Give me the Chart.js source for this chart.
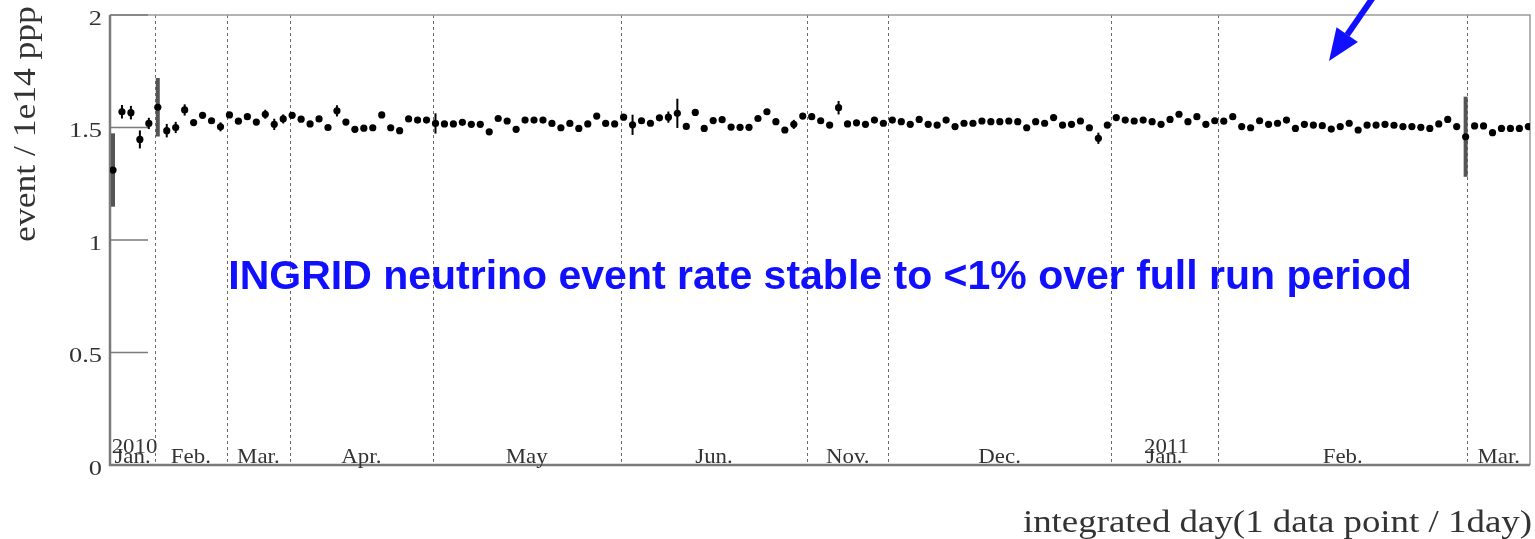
<!DOCTYPE html>
<html>
<head>
<meta charset="utf-8">
<script src="https://cdn.jsdelivr.net/npm/chart.js@4.4.1/dist/chart.umd.min.js"></script>
<style>
  html, body { margin: 0; padding: 0; background: #fff; }
  #wrap { width: 1535px; height: 539px; }
</style>
</head>
<body>
<div id="wrap"><canvas id="rateChart" width="1535" height="539"></canvas></div>
<script>
// event rate per day (1 data point / 1 day), in events / 1e14 ppp
const rate = [
    1.311, 1.570, 1.566, 1.447, 1.518, 1.590, 1.486, 1.500, 1.578, 1.522,
    1.554, 1.530, 1.503, 1.556, 1.528, 1.548, 1.524, 1.559, 1.514, 1.538,
    1.554, 1.537, 1.516, 1.538, 1.500, 1.574, 1.524, 1.492,
    1.497, 1.499, 1.556, 1.499, 1.486, 1.538, 1.533, 1.533, 1.518, 1.516,
    1.516, 1.523, 1.514, 1.514, 1.481, 1.540, 1.529, 1.492, 1.533, 1.533,
    1.533, 1.518, 1.499, 1.518, 1.496, 1.516, 1.551, 1.518, 1.516,
    1.546, 1.512, 1.530, 1.519, 1.543, 1.546, 1.563, 1.505, 1.567, 1.496,
    1.531, 1.535, 1.502, 1.501, 1.501, 1.540, 1.570, 1.526, 1.489, 1.514,
    1.551, 1.548, 1.530, 1.511, 1.588, 1.516, 1.521, 1.514, 1.533,
    1.519, 1.533, 1.526, 1.514, 1.536, 1.514, 1.511, 1.533, 1.504, 1.519,
    1.519, 1.529, 1.526, 1.526, 1.529, 1.526, 1.499, 1.526, 1.519, 1.544,
    1.511, 1.514, 1.529, 1.499, 1.452, 1.511, 1.544, 1.533,
    1.529, 1.533, 1.526, 1.514, 1.536, 1.559, 1.526, 1.548, 1.514, 1.530,
    1.528, 1.548, 1.504, 1.499, 1.530, 1.514, 1.519, 1.533, 1.496, 1.514,
    1.511, 1.508, 1.493, 1.504, 1.519, 1.489, 1.511, 1.511, 1.514,
    1.510, 1.504, 1.504, 1.501, 1.496, 1.516, 1.536, 1.504, 1.459, 1.507,
    1.507, 1.477, 1.496, 1.496, 1.496, 1.504
];

// statistical error on each point
const rateErr = [
    0.163, 0.030, 0.030, 0.040, 0.025, 0.130, 0.030, 0.025, 0.025, 0.010,
    0.015, 0.010, 0.020, 0.010, 0.010, 0.010, 0.010, 0.020, 0.025, 0.020,
    0.010, 0.010, 0.010, 0.010, 0.010, 0.025, 0.010, 0.010,
    0.010, 0.010, 0.015, 0.010, 0.010, 0.010, 0.010, 0.012, 0.045, 0.010,
    0.010, 0.010, 0.010, 0.010, 0.010, 0.013, 0.015, 0.010, 0.015, 0.010,
    0.010, 0.010, 0.010, 0.010, 0.013, 0.010, 0.010, 0.010, 0.010,
    0.010, 0.045, 0.015, 0.010, 0.010, 0.025, 0.065, 0.010, 0.010, 0.010,
    0.010, 0.015, 0.010, 0.010, 0.010, 0.010, 0.010, 0.010, 0.010, 0.020,
    0.010, 0.010, 0.010, 0.010, 0.030, 0.010, 0.010, 0.010, 0.010,
    0.010, 0.010, 0.010, 0.010, 0.010, 0.010, 0.010, 0.010, 0.010, 0.010,
    0.010, 0.010, 0.010, 0.010, 0.010, 0.010, 0.010, 0.010, 0.010, 0.015,
    0.010, 0.010, 0.010, 0.010, 0.025, 0.015, 0.013, 0.010,
    0.010, 0.010, 0.010, 0.010, 0.010, 0.015, 0.010, 0.010, 0.010, 0.010,
    0.010, 0.010, 0.010, 0.010, 0.010, 0.010, 0.010, 0.010, 0.010, 0.010,
    0.010, 0.010, 0.010, 0.010, 0.010, 0.010, 0.010, 0.010, 0.010,
    0.010, 0.010, 0.010, 0.010, 0.010, 0.012, 0.010, 0.010, 0.178, 0.010,
    0.010, 0.010, 0.010, 0.010, 0.010, 0.010
];

// month boundaries (in integrated days) and the month labels between them
const monthEdges = [4.69, 12.69, 19.76, 35.69, 56.68, 77.5, 86.55, 111.4, 123.35, 151.2];
const monthNames = ['Jan.', 'Feb.', 'Mar.', 'Apr.', 'May', 'Jun.', 'Nov.', 'Dec.', 'Jan.', 'Feb.', 'Mar.'];
const yearNames  = ['2010', '', '', '', '', '', '', '', '2011', '', ''];

const yTicks = [0, 0.5, 1, 1.5, 2];
const yTickLabels = ['0', '0.5', '1', '1.5', '2'];

const yTitle = 'event / 1e14 ppp';
const xTitle = 'integrated day(1 data point / 1day)';
const note = 'INGRID neutrino event rate stable to <1% over full run period';

const SERIF = '"Liberation Serif", "Times New Roman", serif';

function stretchText(ctx, txt, x, y, sx, align) {
    ctx.save();
    ctx.translate(x, y);
    ctx.scale(sx, 1);
    ctx.textAlign = align;
    ctx.fillText(txt, 0, 0);
    ctx.restore();
}

const rootStyle = {
    id: 'rootStyle',
    beforeDatasetsDraw(chart) {
        const ctx = chart.ctx;
        const area = chart.chartArea;
        const xs = chart.scales.x, ys = chart.scales.y;

        // month separators
        ctx.save();
        ctx.strokeStyle = '#6a6a6a';
        ctx.lineWidth = 1;
        ctx.setLineDash([3, 3]);
        monthEdges.forEach(d => {
            const px = Math.round(xs.getPixelForValue(d)) + 0.5;
            ctx.beginPath();
            ctx.moveTo(px, area.top);
            ctx.lineTo(px, area.bottom);
            ctx.stroke();
        });
        ctx.restore();

        // frame
        ctx.save();
        ctx.strokeStyle = '#9a9a9a';
        ctx.lineWidth = 1.5;
        ctx.beginPath();
        ctx.moveTo(area.left, area.top);
        ctx.lineTo(area.right, area.top);
        ctx.lineTo(area.right, area.bottom);
        ctx.stroke();
        ctx.strokeStyle = '#7a7a7a';
        ctx.lineWidth = 2.5;
        ctx.beginPath();
        ctx.moveTo(area.left, area.top);
        ctx.lineTo(area.left, area.bottom);
        ctx.lineTo(area.right, area.bottom);
        ctx.stroke();

        // y ticks, drawn inside the frame like ROOT
        ctx.strokeStyle = '#7a7a7a';
        ctx.lineWidth = 1.5;
        yTicks.forEach(v => {
            const py = ys.getPixelForValue(v);
            ctx.beginPath();
            ctx.moveTo(area.left, py);
            ctx.lineTo(area.left + 38, py);
            ctx.stroke();
        });
        ctx.restore();

        // error bars
        ctx.save();
        rate.forEach((v, i) => {
            const px = xs.getPixelForValue(i);
            const top = ys.getPixelForValue(v + rateErr[i]);
            const bot = ys.getPixelForValue(v - rateErr[i]);
            if (bot - top < 8) return;
            const wide = rateErr[i] > 0.1;
            ctx.strokeStyle = wide ? '#555' : '#000';
            ctx.lineWidth = wide ? 4 : 2;
            ctx.beginPath();
            ctx.moveTo(px, top);
            ctx.lineTo(px, bot);
            ctx.stroke();
        });
        ctx.restore();
    },
    afterDatasetsDraw(chart) {
        const ctx = chart.ctx;
        const area = chart.chartArea;
        const xs = chart.scales.x, ys = chart.scales.y;

        ctx.save();
        ctx.fillStyle = '#333';
        ctx.textBaseline = 'middle';
        ctx.font = '22px ' + SERIF;
        yTicks.forEach((v, i) => {
            stretchText(ctx, yTickLabels[i], area.left - 8, ys.getPixelForValue(v) + 4, 1.2, 'right');
        });

        // month labels centred between the separators
        ctx.textBaseline = 'alphabetic';
        const edges = [xs.min].concat(monthEdges, [xs.max]);
        monthNames.forEach((m, i) => {
            const cx = xs.getPixelForValue((edges[i] + edges[i + 1]) / 2);
            stretchText(ctx, m, cx, area.bottom - 2, 1.04, 'center');
            if (yearNames[i]) stretchText(ctx, yearNames[i], cx + 2, area.bottom - 12, 1.04, 'center');
        });

        // axis titles
        ctx.font = '31px ' + SERIF;
        stretchText(ctx, xTitle, area.right + 2, 532, 1.19, 'right');

        ctx.save();
        ctx.font = '32px ' + SERIF;
        ctx.translate(35, 124);
        ctx.rotate(-Math.PI / 2);
        ctx.scale(1.11, 1);
        ctx.textAlign = 'center';
        ctx.fillText(yTitle, 0, 0);
        ctx.restore();

        // blue annotation
        ctx.fillStyle = '#1010ff';
        ctx.font = 'bold 41px "Liberation Sans", Arial, sans-serif';
        ctx.textAlign = 'center';
        ctx.fillText(note, 820, 289);

        // arrow pointing at the run
        const tipX = 1329, tipY = 61, tailX = 1374, tailY = -4;
        const ang = Math.atan2(tipY - tailY, tipX - tailX);
        const headLen = 32, headHalf = 13;
        const bx = tipX - headLen * Math.cos(ang), by = tipY - headLen * Math.sin(ang);
        ctx.strokeStyle = '#1010ff';
        ctx.lineWidth = 6;
        ctx.beginPath();
        ctx.moveTo(tailX, tailY);
        ctx.lineTo(bx, by);
        ctx.stroke();
        ctx.beginPath();
        ctx.moveTo(tipX, tipY);
        ctx.lineTo(bx + headHalf * Math.sin(ang), by - headHalf * Math.cos(ang));
        ctx.lineTo(bx - headHalf * Math.sin(ang), by + headHalf * Math.cos(ang));
        ctx.closePath();
        ctx.fill();
        ctx.restore();
    }
};

const ctx = document.getElementById('rateChart').getContext('2d');
new Chart(ctx, {
    type: 'scatter',
    data: {
        datasets: [{
            label: 'event rate',
            data: rate.map((v, i) => ({ x: i, y: v })),
            backgroundColor: '#000',
            borderWidth: 0,
            pointRadius: 3.6,
            pointHoverRadius: 3.6
        }]
    },
    options: {
        responsive: false,
        animation: false,
        devicePixelRatio: 1,
        layout: { padding: { left: 110, right: 5, top: 15, bottom: 74 } },
        plugins: { legend: { display: false }, tooltip: { enabled: false } },
        scales: {
            x: { type: 'linear', display: false, min: -0.335, max: 158.185 },
            y: { type: 'linear', display: false, min: 0, max: 2 }
        }
    },
    plugins: [rootStyle]
});
</script>
</body>
</html>
